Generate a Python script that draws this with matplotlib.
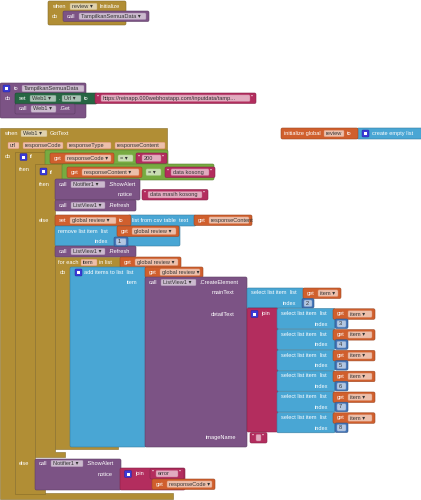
import matplotlib
matplotlib.use('Agg')
import matplotlib.pyplot as plt
from matplotlib.patches import FancyBboxPatch, Polygon
from matplotlib.colors import to_rgb

plt.rcParams['font.family'] = ['Liberation Sans', 'DejaVu Sans']

# block texts
proc_name = 'TampilkanSemuaData'
global_name = 'review'
url_text = 'https://reinapp.000webhostapp.com/inputdata/tamp...'
event_params = ['url', 'responseCode', 'responseType', 'responseContent']
check_code = '200'
empty_text = 'data kosong'
alert_text = 'data masih kosong'
remove_index = 1
main_index = 2
detail_index = [3, 4, 5, 6, 7, 8]
error_text = 'error'

# App Inventor colours
GOLD = '#b18e35'
PURPLE = '#7c5385'
DKGREEN = '#266643'
LOGIC = '#77ab41'
MATH = '#3f71b5'
TEXT = '#b32d5e'
LISTS = '#49a6d4'
VAR = '#d05f2d'

FS = 4.1

fig = plt.figure(figsize=(4.21, 5.0), dpi=100)
ax = fig.add_axes([0, 0, 1, 1])
ax.set_xlim(0, 421)
ax.set_ylim(500, 0)
ax.axis('off')


def shade(c, f):
    r, g, b = to_rgb(c)
    if f > 0:
        return (r + (1 - r) * f, g + (1 - g) * f, b + (1 - b) * f)
    return (r * (1 + f), g * (1 + f), b * (1 + f))


def box(x, y, w, h, c, z=2):
    ax.add_patch(FancyBboxPatch((x, y), w, h, boxstyle='round,pad=0,rounding_size=1.5',
                                fc=c, ec=shade(c, -0.25), lw=0.4, zorder=z))


def poly(pts, c, z=1):
    ax.add_patch(Polygon(pts, closed=True, fc=c, ec=shade(c, -0.25), lw=0.4, zorder=z))


def label(x, y, s, c='white'):
    ax.text(x, y, s, fontsize=FS, color=c, va='center', ha='left', zorder=20)


def field(x, y, w, s, base, dd=True, z=12):
    # y is centre of the field
    ax.add_patch(FancyBboxPatch((x, y - 3.3), w, 6.6, boxstyle='round,pad=0,rounding_size=1.2',
                                fc=shade(base, 0.6), ec=shade(base, 0.3), lw=0.3, zorder=z))
    ax.text(x + 1.6, y, s + (' \u25be' if dd else ''), fontsize=FS, color='#333333',
            va='center', ha='left', zorder=z + 1)


def mutator(x, y):
    ax.add_patch(FancyBboxPatch((x, y), 7, 7, boxstyle='round,pad=0,rounding_size=1',
                                fc='#3b3bd6', ec='#2020a0', lw=0.3, zorder=15))
    ax.add_patch(FancyBboxPatch((x + 2, y + 2), 3, 3, boxstyle='square,pad=0',
                                fc='white', ec='none', zorder=16))


def text_block(x, y, w, s, z=5):
    box(x, y, w, 10.5, TEXT, z)
    label(x + 2, y + 4, '"')
    field(x + 6, y + 5.2, w - 12, s, TEXT, dd=False, z=z + 6)
    label(x + w - 5, y + 4, '"')


def num_block(x, y, w, n, z=5):
    box(x, y, w, 9.5, MATH, z)
    field(x + 2, y + 4.8, w - 4, str(n), MATH, dd=False, z=z + 6)


def get_block(x, y, w, name, z=6, dd=True):
    box(x, y, w, 10.5, VAR, z)
    label(x + 4, y + 5.2, 'get')
    field(x + 15, y + 5.2, w - 18, name, VAR, dd=dd, z=z + 6)


# ---- when review.Initialize
box(48, 1, 78, 24, GOLD, 1)
label(52, 6.5, 'when')
field(70, 6.5, 27, global_name, GOLD)
label(100, 6.5, 'Initialize')
label(52, 16.5, 'do')
box(63, 11, 86, 10.5, PURPLE, 3)
label(67, 16.3, 'call')
field(79, 16.3, 67, proc_name, PURPLE)

# ---- to TampilkanSemuaData
box(0, 83, 86, 35, PURPLE, 1)
mutator(3, 85)
label(14, 88.5, 'to')
field(22, 88.5, 62, proc_name, PURPLE, dd=False)
label(5, 99, 'do')
box(15, 93, 82, 11, DKGREEN, 3)
label(19, 98.5, 'set')
field(30, 98.5, 26, 'Web1', DKGREEN)
label(58, 98.5, '.')
field(62, 98.5, 19, 'Url', DKGREEN)
label(84, 98.5, 'to')
text_block(95, 93, 161, url_text)
box(15, 104, 60, 10, PURPLE, 3)
label(19, 109, 'call')
field(31, 109, 25, 'Web1', PURPLE)
label(59, 109, '.Get')

# ---- initialize global review
box(281, 128, 77, 11, VAR, 3)
label(283.5, 133.5, 'initialize global')
field(324, 133.5, 20, global_name, VAR, dd=False)
label(347, 133.5, 'to')
box(357, 128, 68, 11, LISTS, 2)
mutator(362, 130)
label(372, 133.5, 'create empty list')

# ---- when Web1.GotText
poly([(0, 128), (167, 128), (167, 153), (15, 153), (15, 493), (173, 493), (173, 499), (0, 499)], GOLD, 1)
label(4, 133.5, 'when')
field(21, 133.5, 26, 'Web1', GOLD)
label(50, 133.5, 'GotText')
px = 8
pw = [11, 40, 44, 50]
for name, w in zip(event_params, pw):
    field(px, 145.5, w, name, VAR, dd=False)
    px += w + 4
label(5, 157, 'do')

# outer if
poly([(15, 152), (46, 152), (46, 166), (35, 166), (35, 489), (45, 489), (45, 494), (15, 494)], GOLD, 2)
mutator(20, 153.5)
label(30, 157, 'if')
label(19, 169.5, 'then')
label(19, 463.5, 'else')
box(45, 150, 123, 16, LOGIC, 3)
get_block(50, 153, 64, event_params[1])
field(118, 158.2, 15, '=', LOGIC)
text_block(136, 153, 31, check_code)

# inner if
poly([(35, 164), (63, 164), (63, 180), (55, 180), (55, 452), (65, 452), (65, 457), (35, 457)], GOLD, 4)
mutator(40, 168)
label(50, 172, 'if')
label(39, 184.5, 'then')
label(39, 221, 'else')
box(62, 164, 152, 16, LOGIC, 5)
get_block(67, 167, 75, event_params[3], z=6)
field(146, 172.2, 15, '=', LOGIC)
text_block(165, 167, 50, empty_text, z=6)

box(55, 179, 85, 21, PURPLE, 6)
label(59, 184.5, 'call')
field(71, 184.5, 34, 'Notifier1', PURPLE)
label(108, 184.5, '.ShowAlert')
label(118, 195, 'notice')
text_block(142, 189.5, 66, alert_text, z=7)
box(55, 200, 81, 11, PURPLE, 6)
label(59, 205.5, 'call')
field(71, 205.5, 34, 'ListView1', PURPLE)
label(108, 205.5, '.Refresh')

# else branch
box(55, 215, 76, 11, VAR, 6)
label(59, 220.5, 'set')
field(70, 220.5, 46, 'global ' + global_name, VAR)
label(119, 220.5, 'to')
box(128, 215, 68, 11, LISTS, 5)
label(132, 220.5, 'list from csv table  text')
get_block(194, 215, 58, event_params[3], z=6, dd=False)

box(55, 226, 125, 20, LISTS, 6)
label(58, 231.5, 'remove list item  list')
get_block(117, 226, 62, 'global ' + global_name, z=7)
label(95, 241.5, 'index')
num_block(114, 237, 14, remove_index, z=7)

box(55, 246, 81, 11, PURPLE, 6)
label(59, 251.5, 'call')
field(71, 251.5, 34, 'ListView1', PURPLE)
label(108, 251.5, '.Refresh')

# for each
poly([(55, 257), (122, 257), (122, 268), (70, 268), (70, 444), (118, 444), (118, 449), (55, 449)], GOLD, 6)
label(58, 262.5, 'for each')
field(81, 262.5, 16, 'item', VAR, dd=False)
label(99, 262.5, 'in list')
get_block(120, 257, 61, 'global ' + global_name, z=7)
label(60, 272.5, 'do')

box(70, 267, 76, 180, LISTS, 7)
mutator(75, 269)
label(84, 272.5, 'add items to list  list')
get_block(145, 267, 58, 'global ' + global_name, z=8)
label(127, 282.5, 'item')

box(145, 277, 102, 170, PURPLE, 8)
label(149, 282.5, 'call')
field(161, 282.5, 35, 'ListView1', PURPLE)
label(199, 282.5, '.CreateElement')
label(212, 293, 'mainText')
label(211, 314, 'detailText')
label(206, 437.5, 'imageName')

box(247, 288, 57, 20, LISTS, 9)
label(251, 293, 'select list item  list')
get_block(303, 288, 38, 'item', z=10)
label(283, 303.5, 'index')
num_block(302, 298.5, 12, main_index, z=10)

box(247, 308, 31, 124, TEXT, 9)
mutator(251, 310.5)
label(261, 314, 'join')
for i, n in enumerate(detail_index):
    top = 308.5 + 20.8 * i
    box(277, top, 58, 20.3, LISTS, 10)
    label(281, top + 5, 'select list item  list')
    get_block(333, top + 0.3, 42, 'item', z=11)
    label(315, top + 15.5, 'index')
    num_block(335, top + 10.5, 13, n, z=11)

text_block(250, 432.5, 17, '', z=9)

# outer else
box(35, 459, 86, 31, PURPLE, 6)
label(39, 463.5, 'call')
field(51, 463.5, 32, 'Notifier1', PURPLE)
label(86, 463.5, '.ShowAlert')
label(98, 474, 'notice')
box(120, 468, 65, 22, TEXT, 7)
mutator(124.5, 470.5)
label(135, 474, 'join')
text_block(150, 468.5, 34, error_text, z=8)
get_block(152, 479, 63, event_params[1], z=8)

fig.savefig('out.png', dpi=100)
